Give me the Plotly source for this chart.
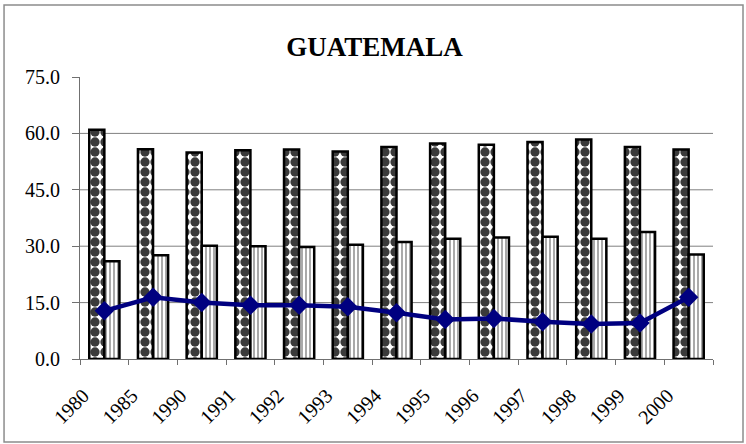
import plotly.graph_objects as go

years = ["1980", "1985", "1990", "1991", "1992", "1993", "1994",
         "1995", "1996", "1997", "1998", "1999", "2000"]
series_a = [61.0, 55.8, 54.9, 55.5, 55.7, 55.2, 56.4, 57.3, 57.0, 57.7, 58.4, 56.4, 55.7]
series_b = [26.0, 27.6, 30.1, 30.0, 29.8, 30.4, 31.1, 32.0, 32.3, 32.5, 32.0, 33.8, 27.8]
series_line = [12.8, 16.4, 15.0, 14.3, 14.3, 13.9, 12.3, 10.5, 10.8, 9.9, 9.3, 9.6, 16.4]
y_ticks = [0, 15, 30, 45, 60, 75]
y_tick_text = ["0.0", "15.0", "30.0", "45.0", "60.0", "75.0"]
title_text = "GUATEMALA"

SERIF = "Liberation Serif, Times New Roman, serif"

fig = go.Figure()
fig.add_trace(go.Bar(
    x=years, y=series_a, name="A",
    marker=dict(color="white", line=dict(color="black", width=2.5),
                pattern=dict(shape=".", fgcolor="#3a3a3a", bgcolor="white",
                             size=10, solidity=0.68, fgopacity=1)),
))
fig.add_trace(go.Bar(
    x=years, y=series_b, name="B",
    marker=dict(color="white", line=dict(color="black", width=2.5),
                pattern=dict(shape="|", fgcolor="#a0a0a0", bgcolor="white",
                             size=4, solidity=0.45, fgopacity=1)),
))
fig.add_trace(go.Scatter(
    x=years, y=series_line, mode="lines+markers", name="C",
    line=dict(color="#000080", width=4.5),
    marker=dict(symbol="diamond", size=15, color="#000080"),
))

# gridlines (excluding axis base and top)
for v in y_ticks[1:-1]:
    fig.add_shape(type="line", xref="paper", x0=0, x1=1, yref="y", y0=v, y1=v,
                  line=dict(color="#808080", width=1), layer="below")

# outer frame
fig.add_shape(type="rect", xref="paper", yref="paper",
              x0=-0.120, x1=1.0474, y0=-0.294, y1=1.255,
              line=dict(color="#8c8c8c", width=1.5))

fig.update_layout(
    width=746, height=444,
    margin=dict(l=80, r=33, t=77, b=85),
    paper_bgcolor="white", plot_bgcolor="white",
    showlegend=False,
    barmode="group", bargap=0.38, bargroupgap=0,
    title=dict(text="<b>" + title_text + "</b>", x=0.502, xanchor="center",
               y=0.895, yanchor="middle",
               font=dict(family=SERIF, size=27, color="black")),
    font=dict(family=SERIF, color="black"),
)
fig.update_xaxes(
    type="category", showgrid=False, showline=True, linecolor="#707070", linewidth=1,
    ticks="outside", tickson="boundaries", ticklen=5, tickcolor="#707070",
    tickangle=-45, tickfont=dict(family=SERIF, size=20, color="black"),
    ticklabelshift=-21, ticklabelstandoff=16,
    range=[-0.5, 12.5], automargin=False,
)
fig.update_yaxes(
    range=[0, 75], tickvals=y_ticks, ticktext=y_tick_text,
    showgrid=False, zeroline=False, showline=True, linecolor="#707070", linewidth=1,
    ticks="outside", ticklen=7, tickcolor="#707070",
    ticklabelstandoff=8, automargin=False,
    tickfont=dict(family=SERIF, size=20, color="black"),
)

fig.write_html("out.html", config={"displayModeBar": False},
               post_script="document.body.style.margin='0';")
